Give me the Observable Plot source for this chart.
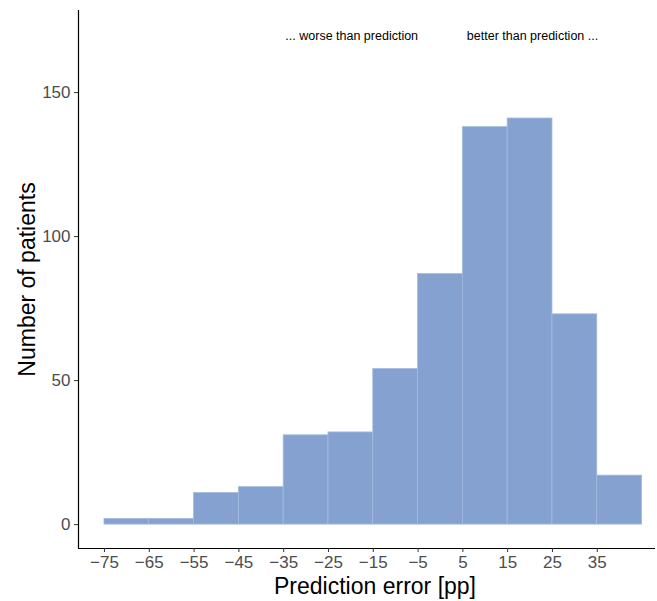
<!DOCTYPE html>
<html>
<head>
<meta charset="utf-8">
<script src="https://cdn.jsdelivr.net/npm/d3@7"></script>
<script src="https://cdn.jsdelivr.net/npm/@observablehq/plot@0.6"></script>
<style>
  html, body { margin: 0; padding: 0; background: #fff; }
  svg { font-family: "Liberation Sans", Arial, sans-serif; }
</style>
</head>
<body>
<div id="chart"></div>
<script>
const binStart = [-75, -65, -55, -45, -35, -25, -15, -5, 5, 15, 25, 35];
const binEnd   = [-65, -55, -45, -35, -25, -15, -5, 5, 15, 25, 35, 45];
const counts   = [2, 2, 11, 13, 31, 32, 54, 87, 138, 141, 73, 17];
const xTicks = [-75, -65, -55, -45, -35, -25, -15, -5, 5, 15, 25, 35];
const yTicks = [0, 50, 100, 150];
const annotations = ["... worse than prediction", "better than prediction ..."];
const annotX = [-5, 5];
const annotY = 169.8;
const xDomain = [-80.8, 48];
const yDomain = [-8.3, 178.5];

const bins = binStart.map((s, i) => ({x1: s, x2: binEnd[i], n: counts[i]}));

const chart = Plot.plot({
  width: 657,
  height: 601,
  marginLeft: 78,
  marginRight: 2,
  marginTop: 10,
  marginBottom: 53,
  x: {domain: xDomain},
  y: {domain: yDomain},
  style: {fontFamily: "Liberation Sans, Arial, sans-serif", background: "#fff"},
  marks: [
    Plot.rectY(bins, {x1: "x1", x2: "x2", y: "n", fill: "#84a1cf", stroke: "#a3bbe0", strokeWidth: 0.8}),
    Plot.ruleX([xDomain[0]], {stroke: "#000", strokeWidth: 1.2}),
    Plot.ruleY([yDomain[0]], {stroke: "#000", strokeWidth: 1.2}),
    Plot.text([annotations[0]], {x: annotX[0], y: annotY, text: d => d, textAnchor: "end", fontSize: 12.5, fill: "#000"}),
    Plot.text([annotations[1]], {x: annotX[1], y: annotY, text: d => d, textAnchor: "start", dx: 4, fontSize: 12.5, fill: "#000"}),
    Plot.axisX({ticks: xTicks, tickSize: 4, tickPadding: 3, fontSize: 17, color: "#4d4d4d", stroke: "#333",
      label: "Prediction error [pp]", labelAnchor: "center", labelArrow: "none", labelOffset: 45}),
    Plot.axisY({ticks: yTicks, tickSize: 4, tickPadding: 4, fontSize: 17, color: "#4d4d4d", stroke: "#333",
      label: "Number of patients", labelAnchor: "center", labelArrow: "none", labelOffset: 60})
  ]
});

d3.select(chart).selectAll("g[aria-label='x-axis label'] text, g[aria-label='y-axis label'] text")
  .attr("font-size", 23).attr("fill", "#000");
d3.select(chart).selectAll("g[aria-label='x-axis label']")
  .attr("transform", function() { return (this.getAttribute("transform") || "") + " translate(8,0)"; });
document.getElementById("chart").appendChild(chart);
</script>
</body>
</html>
